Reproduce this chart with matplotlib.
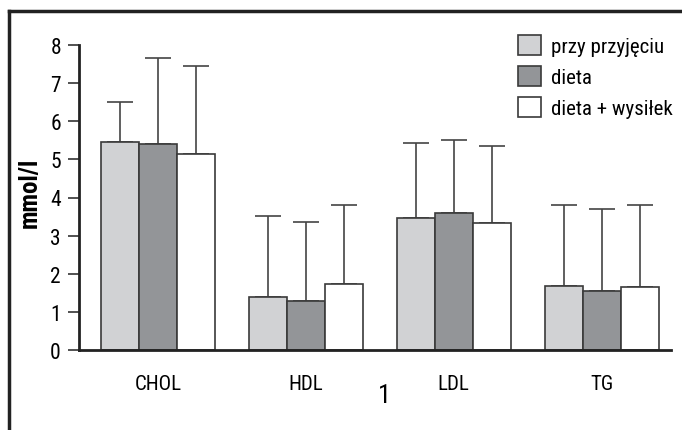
import numpy as np
import matplotlib.pyplot as plt
from matplotlib.patches import Patch
from matplotlib.lines import Line2D

# condensed face like the original; the rest are fallbacks
plt.rcParams["font.family"] = ["Roboto Condensed", "Archivo Narrow",
                               "Liberation Sans", "DejaVu Sans"]

# data
categories = ["CHOL", "HDL", "LDL", "TG"]
series = ["przy przyjęciu", "dieta", "dieta + wysiłek"]
przy_przyjeciu = [5.46, 1.40, 3.45, 1.68]
dieta = [5.40, 1.29, 3.60, 1.55]
dieta_wysilek = [5.15, 1.74, 3.33, 1.66]
# top of the error bar (mean + SD)
err_top_przy = [6.51, 3.52, 5.42, 3.81]
err_top_dieta = [7.67, 3.37, 5.50, 3.69]
err_top_wysilek = [7.44, 3.81, 5.35, 3.81]

colors = ["#d1d2d4", "#939598", "#ffffff"]
edge = "#3a3a3a"

fig = plt.figure(figsize=(6.82, 4.31), dpi=100)
ax = fig.add_axes([79 / 682, 1 - 351 / 431, (671 - 79) / 682, (351 - 46) / 431])

x = np.arange(len(categories))
w = 0.257
vals = [przy_przyjeciu, dieta, dieta_wysilek]
tops = [err_top_przy, err_top_dieta, err_top_wysilek]
for i in range(3):
    pos = x + (i - 1) * w
    v = np.array(vals[i])
    up = np.array(tops[i]) - v
    ax.bar(pos, v, width=w, color=colors[i], edgecolor=edge, linewidth=1.2,
           label=series[i], zorder=2)
    ax.errorbar(pos, v, yerr=[np.zeros_like(v), up], fmt="none",
                ecolor="#444444", elinewidth=1.2, capsize=9.5, capthick=1.2,
                zorder=1)

ax.set_xlim(-0.534, 3.47)
ax.set_ylim(0, 8)
ax.set_yticks(range(9))
ax.set_xticks(x)
ax.set_xticklabels(categories, fontsize=15)
ax.tick_params(axis="x", length=0, pad=17)
ax.tick_params(axis="y", length=8, width=1.2, labelsize=15.5, pad=5, color="#333333")
for s in ["top", "right"]:
    ax.spines[s].set_visible(False)
for s in ["left", "bottom"]:
    ax.spines[s].set_linewidth(2)
    ax.spines[s].set_color("#222222")
ax.set_ylabel("mmol/l", fontsize=18, fontweight="bold")
ax.yaxis.set_label_coords(-0.063, 0.52)

handles = [Patch(facecolor=c, edgecolor=edge, linewidth=1.2) for c in colors]
fig.legend(handles, series, loc="upper left", bbox_to_anchor=(518 / 682, 1 - 36 / 431),
           frameon=False, fontsize=15, handlelength=1.1, handleheight=1.1,
           labelspacing=0.48, handletextpad=0.48, borderpad=0, borderaxespad=0)

fig.text(384 / 682, 1 - 396 / 431, "1", fontsize=19, ha="center", va="center")

# outer frame (top and left only are visible)
fig.add_artist(Line2D([9 / 682, 1], [1 - 12 / 431, 1 - 12 / 431], color="#222222", lw=2.5))
fig.add_artist(Line2D([9 / 682, 9 / 682], [0, 1 - 12 / 431], color="#222222", lw=2.5))

fig.savefig("out.png", dpi=100)
